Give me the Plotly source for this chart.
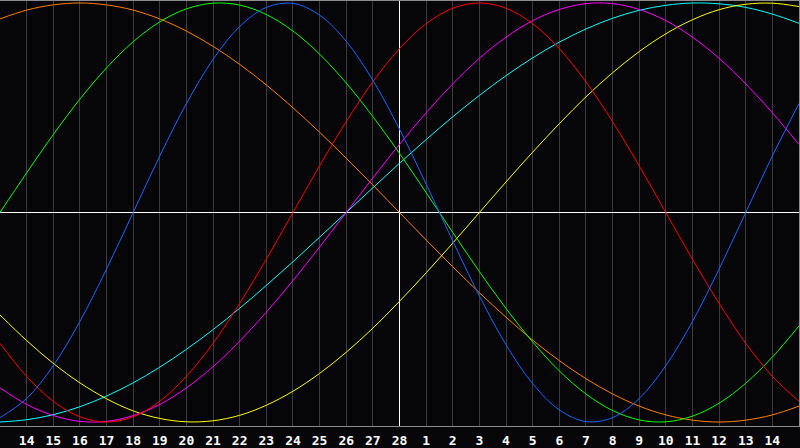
import plotly.graph_objects as go

days = list(range(-15, 16))
tick_days = list(range(-14, 15))
tick_labels = ["14", "15", "16", "17", "18", "19", "20", "21", "22", "23", "24", "25", "26", "27", "28",
               "1", "2", "3", "4", "5", "6", "7", "8", "9", "10", "11", "12", "13", "14"]

physical = [-0.979, -0.888, -0.731, -0.520, -0.270, 0.0, 0.270, 0.520, 0.731, 0.888, 0.979, 0.998, 0.942,
            0.817, 0.631, 0.398, 0.136, -0.136, -0.398, -0.631, -0.817, -0.942, -0.998, -0.979, -0.888,
            -0.731, -0.520, -0.270, 0.0, 0.270, 0.520]
emotional = [-0.624, -0.782, -0.901, -0.975, -1.0, -0.975, -0.901, -0.782, -0.624, -0.434, -0.223, 0.0,
             0.223, 0.434, 0.624, 0.782, 0.901, 0.975, 1.0, 0.975, 0.901, 0.782, 0.624, 0.434, 0.223, 0.0,
             -0.223, -0.434, -0.624, -0.782, -0.901]
intellectual = [0.0, 0.189, 0.372, 0.541, 0.690, 0.815, 0.910, 0.972, 0.999, 0.990, 0.945, 0.866, 0.756,
                0.618, 0.458, 0.282, 0.095, -0.095, -0.282, -0.458, -0.618, -0.756, -0.866, -0.945, -0.990,
                -0.999, -0.972, -0.910, -0.815, -0.690, -0.541]
intuitive = [-0.837, -0.916, -0.969, -0.997, -0.997, -0.969, -0.916, -0.837, -0.736, -0.614, -0.476, -0.325,
             -0.165, 0.0, 0.165, 0.325, 0.476, 0.614, 0.736, 0.837, 0.916, 0.969, 0.997, 0.997, 0.969, 0.916,
             0.837, 0.736, 0.614, 0.476, 0.325]
aesthetic = [-0.489, -0.611, -0.720, -0.813, -0.889, -0.947, -0.983, -0.999, -0.994, -0.968, -0.920, -0.853,
             -0.768, -0.667, -0.552, -0.424, -0.288, -0.146, 0.0, 0.146, 0.288, 0.424, 0.552, 0.667, 0.768,
             0.853, 0.920, 0.968, 0.994, 0.999, 0.983]
awareness = [0.924, 0.966, 0.991, 1.0, 0.991, 0.966, 0.924, 0.866, 0.793, 0.707, 0.609, 0.5, 0.383, 0.259,
             0.131, 0.0, -0.131, -0.259, -0.383, -0.5, -0.609, -0.707, -0.793, -0.866, -0.924, -0.966, -0.991,
             -1.0, -0.991, -0.966, -0.924]
spiritual = [-1.0, -0.989, -0.965, -0.927, -0.876, -0.813, -0.738, -0.653, -0.559, -0.457, -0.348, -0.235,
             -0.118, 0.0, 0.118, 0.235, 0.348, 0.457, 0.559, 0.653, 0.738, 0.813, 0.876, 0.927, 0.965, 0.989,
             1.0, 0.996, 0.979, 0.947, 0.903]

series = [
    ("Awareness", awareness, "#ff8000"),
    ("Spiritual", spiritual, "#00ffff"),
    ("Aesthetic", aesthetic, "#ffff00"),
    ("Intuitive", intuitive, "#ff00ff"),
    ("Intellectual", intellectual, "#00ff00"),
    ("Emotional", emotional, "#ff0000"),
    ("Physical", physical, "#1a66ff"),
]

fig = go.Figure()
for name, vals, col in series:
    fig.add_trace(go.Scatter(x=days, y=vals, mode="lines", name=name,
                             line=dict(color=col, width=1, shape="spline", smoothing=1.0)))

bg = "#060608"
fig.update_layout(
    width=800, height=448,
    margin=dict(l=0, r=0, t=0, b=20),
    paper_bgcolor=bg, plot_bgcolor=bg,
    showlegend=False,
    xaxis=dict(range=[-15, 15], tickvals=tick_days, ticktext=tick_labels,
               showgrid=True, gridcolor="#3c3c3c", gridwidth=1,
               zeroline=True, zerolinecolor="#ffffff", zerolinewidth=1,
               showline=True, linecolor="#8c8c8c", linewidth=1, mirror=True,
               ticks="", ticklabelstandoff=2,
               tickfont=dict(family="DejaVu Sans Mono", size=13, color="#ffffff", weight="bold")),
    yaxis=dict(range=[-1.019, 1.0095], showgrid=False, showticklabels=False,
               zeroline=True, zerolinecolor="#ffffff", zerolinewidth=1,
               showline=True, linecolor="#8c8c8c", linewidth=1, mirror=True, ticks=""),
)

fig.write_html("out.html", config={"displayModeBar": False},
               post_script="document.body.style.margin='0px';document.body.style.background='%s';" % bg)
